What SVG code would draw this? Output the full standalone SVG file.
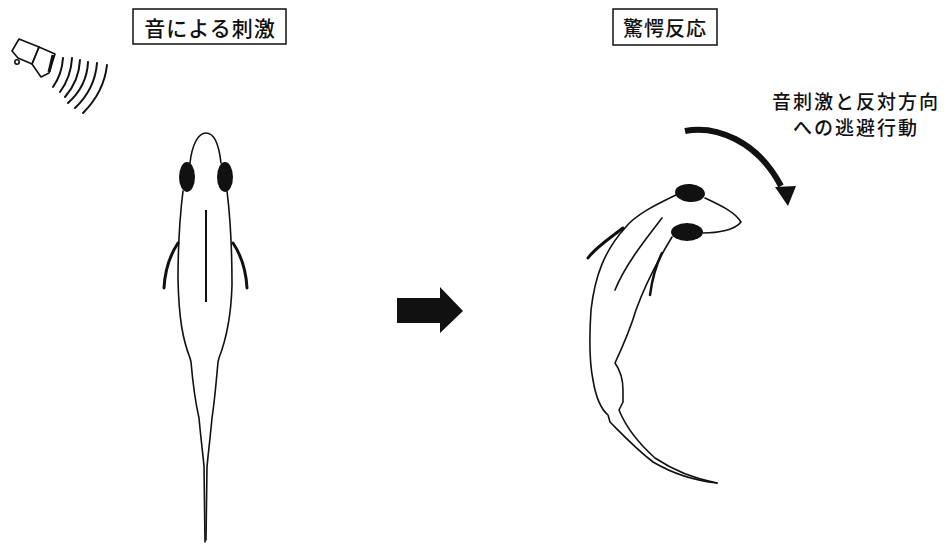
<svg xmlns="http://www.w3.org/2000/svg" width="946" height="544" viewBox="0 0 946 544">
  <style>
    .line { fill: none; stroke: #111; stroke-width: 1.6; stroke-linecap: round; stroke-linejoin: round; }
    .fin { fill: none; stroke: #111; stroke-width: 3; stroke-linecap: round; }
    .wave { fill: none; stroke: #111; stroke-width: 2; stroke-linecap: round; }
    .eye { fill: #111; }
    .box { fill: #fff; stroke: #111; stroke-width: 1.5; }
    .label { font-family: "Noto Sans CJK JP", "Noto Sans CJK SC", sans-serif; font-size: 21px; font-weight: 500; fill: #111; text-anchor: middle; letter-spacing: 1px; }
  </style>

  <rect width="946" height="544" fill="#fff"/>

  <!-- speaker emitting sound -->
  <g id="speaker">
    <path class="line" d="M12,51 L19,39 L39,47 L32,64 L18,58 Z"/>
    <path class="line" d="M39,47 L55,54 L49,73 L41,77 L32,64 Z"/>
    <path d="M53,55 L49,72" stroke="#111" stroke-width="3" fill="none"/>
    <circle class="line" cx="17" cy="62" r="2.2"/>
    <path class="wave" d="M63,58 Q62,74 53,87"/>
    <path class="wave" d="M72,58 Q71,77 60,92"/>
    <path class="wave" d="M80,60 Q79,81 65,97"/>
    <path class="wave" d="M88,62 Q87,86 68,103"/>
    <path class="wave" d="M97,63 Q95,89 75,108"/>
    <path class="wave" d="M107,65 Q104,92 83,113"/>
  </g>

  <!-- caption boxes -->
  <g id="label-stimulus">
    <rect class="box" x="133" y="9" width="153" height="35"/>
    <text class="label" x="210" y="36">音による刺激</text>
  </g>
  <g id="label-startle">
    <rect class="box" x="613" y="9" width="104" height="36"/>
    <text class="label" x="665" y="36" style="font-size:20px">驚愕反応</text>
  </g>
  <g id="label-escape">
    <text class="label" x="856" y="109" style="font-size:19px;letter-spacing:2px">音刺激と反対方向</text>
    <text class="label" x="856" y="135" style="font-size:19px;letter-spacing:2px">への逃避行動</text>
  </g>

  <!-- fish at rest, seen from above -->
  <g id="fish-rest">
    <path class="line" d="M190,163 C192,145 198,133 206,133 C214,133 219,145 221,163"/>
    <ellipse class="eye" cx="187" cy="177" rx="8" ry="15"/>
    <ellipse class="eye" cx="225" cy="177" rx="8" ry="15"/>
    <path class="line" d="M183,191 C180,215 178,250 178,280 C179,320 183,340 190,358 L191,362 C193,385 196,405 199,418 C201,440 203,455 204,466 L205,542"/>
    <path class="line" d="M227,191 C230,215 232,255 232,285 C231,320 226,340 219,358 L218,362 C216,385 214,405 212,418 C210,440 208,455 207,467 L206,540"/>
    <path d="M206,210 L206,302" stroke="#111" stroke-width="2" fill="none"/>
    <path class="fin" d="M178,243 C170,255 165,270 164,288"/>
    <path class="fin" d="M233,243 C241,255 246,270 247,288"/>
  </g>

  <!-- fish turning away -->
  <g id="fish-escape">
    <ellipse class="eye" cx="690" cy="193" rx="15" ry="9" transform="rotate(5 690 193)"/>
    <ellipse class="eye" cx="687" cy="232" rx="16" ry="9"/>
    <path class="line" d="M705,198 C720,205 735,212 741,222 C735,230 718,233 703,233"/>
    <path class="line" d="M676,195 C655,205 635,215 625,228 C605,250 595,275 591,310 C589,340 590,365 593,380 C596,398 602,410 608,415 L610,422 C620,432 635,448 653,462 C670,472 690,480 717,483"/>
    <path class="line" d="M672,237 C658,260 645,285 636,310 C630,330 622,348 615,363 C620,370 623,378 623,390 L623,402 L619,410 C625,425 635,440 655,458 C670,468 690,478 717,483"/>
    <path class="line" d="M662,218 C645,240 625,265 615,290"/>
    <path class="fin" d="M623,228 C610,238 595,248 588,258"/>
    <path class="fin" d="M662,253 C656,265 652,280 650,295" style="stroke-width:2.5"/>
  </g>

  <!-- connectors -->
  <g id="connectors">
    <polygon points="397,298 440,298 440,287 463,311 440,333 440,323 397,323" fill="#111"/>
    <path d="M685,131 C715,125 757,140 781,186" fill="none" stroke="#111" stroke-width="6"/>
    <polygon points="775,187 796,186 788,206" fill="#111"/>
  </g>
</svg>
